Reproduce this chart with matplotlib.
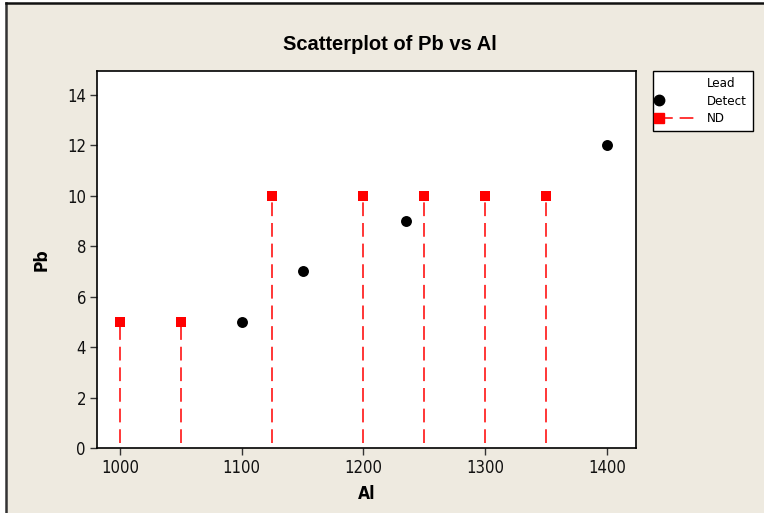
"""Scatterplot of Pb vs Al, detects and non-detects"""
import matplotlib
matplotlib.use('Agg')
import matplotlib.pyplot as plt
from matplotlib.lines import Line2D
from matplotlib.patches import Rectangle
from matplotlib.legend_handler import HandlerLine2D

plt.rcParams['font.family'] = ['DejaVu Sans']
plt.rcParams['font.stretch'] = 'condensed'

# Detected lead values
al_detect = [1100, 1150, 1235, 1400]
pb_detect = [5, 7, 9, 12]

# Non-detects (plotted at the detection limit, with a dashed drop line)
al_nd = [1000, 1050, 1125, 1200, 1250, 1300, 1350]
pb_nd = [5, 5, 10, 10, 10, 10, 10]

x_ticks = [1000, 1100, 1200, 1300, 1400]
y_ticks = [0, 2, 4, 6, 8, 10, 12, 14]

bg = '#eeeae0'
nd_red = '#ff0000'


class MarkerAtStart(HandlerLine2D):
    """Legend handler that puts the marker at the left end of the handle"""
    def create_artists(self, *args, **kwargs):
        artists = super().create_artists(*args, **kwargs)
        for a in artists:
            a.set_markevery([0])
        return artists


fig = plt.figure(figsize=(7.64, 5.13), dpi=100)
fig.patch.set_facecolor('white')

# Beige panel with a dark frame on the top and left edges
fig.patches.append(Rectangle((6 / 764, 0), 1, (513 - 3) / 513, transform=fig.transFigure,
                             facecolor=bg, edgecolor='none', zorder=-5))
fig.add_artist(Line2D([6 / 764, 6 / 764], [0, (513 - 3) / 513], transform=fig.transFigure,
                      color='#333333', lw=1.8, zorder=-4))
fig.add_artist(Line2D([6 / 764, 1], [(513 - 3) / 513, (513 - 3) / 513], transform=fig.transFigure,
                      color='#111111', lw=1.8, zorder=-4))

ax = fig.add_axes([97 / 764, 65 / 513, 539 / 764, 377 / 513])
ax.set_zorder(2)
ax.set_facecolor('white')

# Drop lines for the non-detects
for x, y in zip(al_nd, pb_nd):
    ax.plot([x, x], [0.2, y], color=nd_red, lw=1.1, dashes=(9, 4.5), zorder=2)

ax.scatter(al_nd, pb_nd, marker='s', s=60, color=nd_red, zorder=3, linewidths=0)
ax.scatter(al_detect, pb_detect, marker='o', s=62, color='black', zorder=3, linewidths=0)

ax.set_xlim(981, 1424)
ax.set_ylim(0, 14.95)
ax.set_xticks(x_ticks)
ax.set_yticks(y_ticks)
ax.tick_params(direction='out', length=5, width=1, color='#333333',
               labelsize=12, labelcolor='#111111', pad=3)
for s in ax.spines.values():
    s.set_linewidth(1.2)
    s.set_color('black')

ax.set_xlabel('Al', fontsize=12.5, fontweight='bold', labelpad=6)
ax.set_ylabel('Pb', fontsize=12.5, fontweight='bold', labelpad=12)
fig.text(390 / 764, (513 - 45) / 513, 'Scatterplot of Pb vs Al',
         ha='center', va='center', fontsize=14.5, fontweight='bold',
         family='Liberation Sans', stretch='normal')

# Legend
handles = [
    Line2D([], [], linestyle='none', marker=None),
    Line2D([], [], linestyle='none', marker='o', markersize=7.5, color='black'),
    Line2D([], [], color=nd_red, lw=1.1, dashes=(9, 4.5), marker='s', markersize=7),
]
labels = ['Lead', 'Detect', 'ND']
leg = fig.legend(handles, labels, loc='upper left', bbox_to_anchor=(653 / 764, (513 - 71) / 513),
                 numpoints=1, handlelength=2.9, handletextpad=0.75, fontsize=9.5,
                 frameon=True, fancybox=False, borderpad=0.45, labelspacing=0.35,
                 borderaxespad=0, framealpha=1,
                 handler_map={Line2D: MarkerAtStart()})
leg.get_frame().set_edgecolor('black')
leg.get_frame().set_linewidth(1.0)

fig.savefig('out.png', dpi=100, facecolor=fig.get_facecolor())
